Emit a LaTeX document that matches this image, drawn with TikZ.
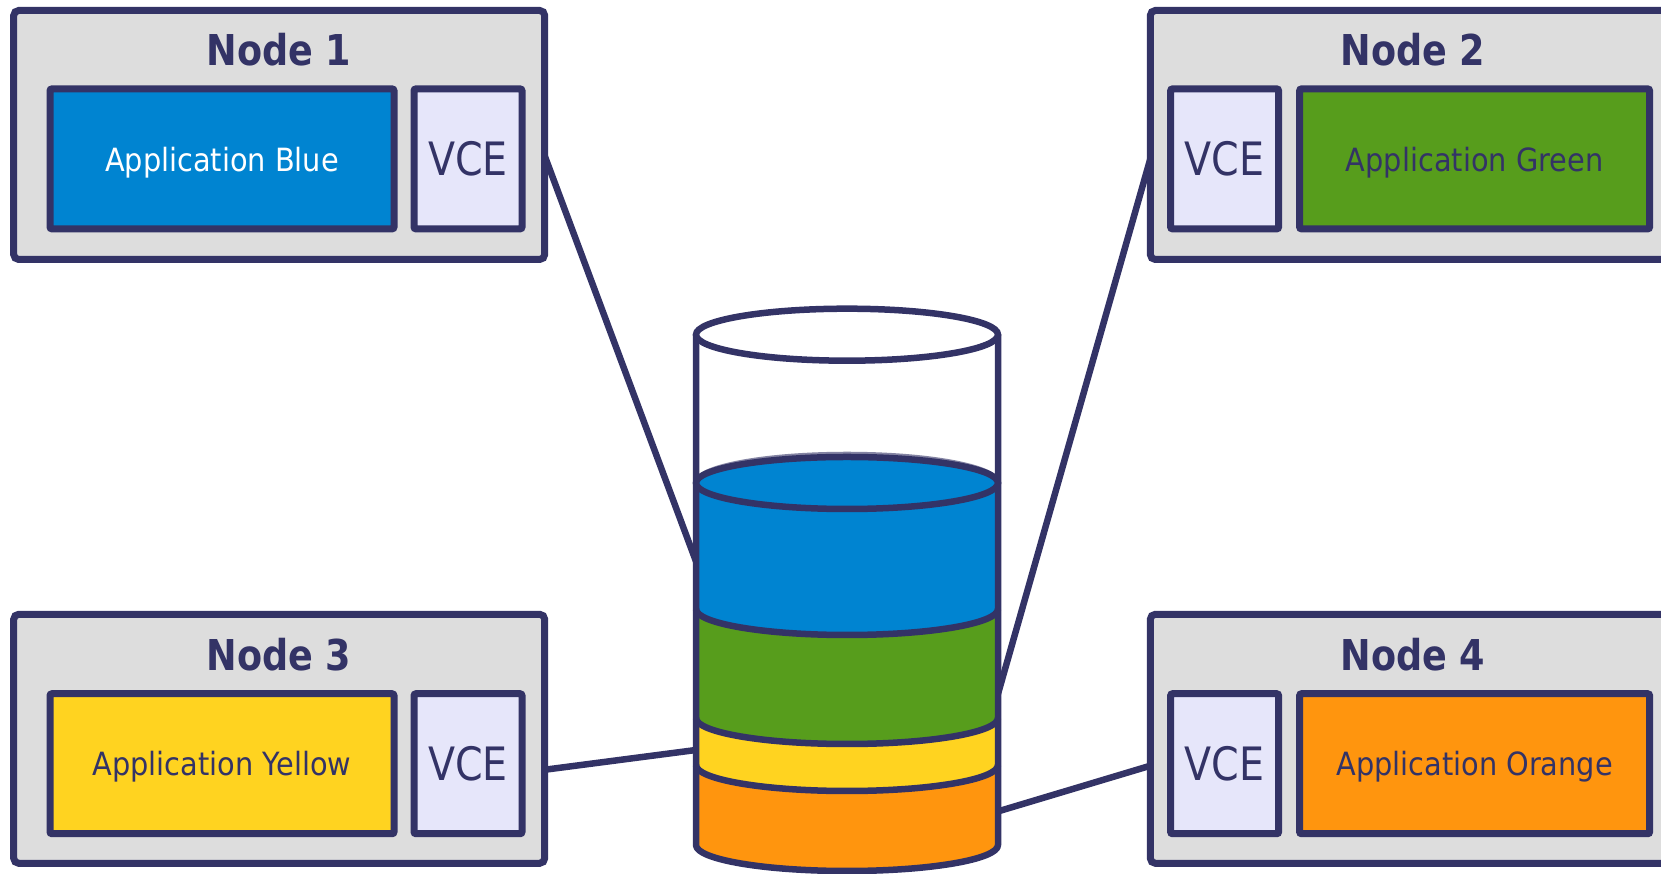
\documentclass[tikz,border=0pt]{standalone}
\usepackage{fontspec}
\usetikzlibrary{calc}
\setmainfont{DejaVu Sans}[FakeStretch=0.86]
\newfontfamily\appfont{DejaVu Sans}[FakeStretch=0.9]
\definecolor{navy}{HTML}{333366}
\definecolor{boxgray}{HTML}{DDDDDD}
\definecolor{lav}{HTML}{E6E6FA}
\definecolor{appblue}{HTML}{0084D1}
\definecolor{appgreen}{HTML}{579D1C}
\definecolor{appyellow}{HTML}{FFD320}
\definecolor{apporange}{HTML}{FF950E}
\begin{document}
\begin{tikzpicture}[x=1pt,y=1pt,
  outerbox/.style={draw=navy,line width=7pt,fill=boxgray,rounded corners=5pt,minimum width=531pt,minimum height=249pt,inner sep=0pt,outer sep=0pt},
  appbox/.style={draw=navy,line width=7pt,rounded corners=2pt,minimum width=344pt,minimum height=140pt,inner sep=0pt,outer sep=0pt,font=\appfont\fontsize{32}{38}\selectfont,text=navy,text depth=0pt},
  vcebox/.style={draw=navy,line width=7pt,fill=lav,rounded corners=2pt,minimum width=108pt,minimum height=140pt,inner sep=0pt,outer sep=0pt,font=\fontsize{46}{50}\selectfont,text=navy},
  titletext/.style={font=\bfseries\fontsize{42.5}{48}\selectfont,text=navy,inner sep=0pt},
  link/.style={draw=navy,line width=6.5pt},
  cyl/.style={draw=navy,line width=6.5pt}]
\useasboundingbox (0,0) rectangle (1661,874);
\clip (0,0) rectangle (1661,874);

% Node 1
\node[outerbox] (n1) at (279.2,739) {};
\node[titletext] (t1) at (279,824.2) {Node 1};
\node[appbox,fill=appblue,text=white] (a1) at (222,715.1) {Application Blue};
\node[vcebox] (v1) at (468,715.1) {VCE};
% Node 2
\node[outerbox] (n2) at (1415.8,739) {};
\node[titletext] (t2) at (1413,824.2) {Node 2};
\node[vcebox] (v2) at (1224.6,715.1) {VCE};
\node[appbox,fill=appgreen,minimum width=350pt] (a2) at (1474.6,715.1) {Application Green};
% Node 3
\node[outerbox] (n3) at (279.2,135.2) {};
\node[titletext] (t3) at (279,219.4) {Node 3};
\node[appbox,fill=appyellow] (a3) at (222,110.25) {Application Yellow};
\node[vcebox] (v3) at (468,110.25) {VCE};
% Node 4
\node[outerbox] (n4) at (1415.8,135.2) {};
\node[titletext] (t4) at (1413,219.4) {Node 4};
\node[vcebox] (v4) at (1224.6,110.25) {VCE};
\node[appbox,fill=apporange,minimum width=350pt] (a4) at (1474.6,110.25) {Application Orange};

% connector end points
\coordinate (s1) at ($(n1.east |- v1)+(0,3)$);
\coordinate (s2) at (n2.west |- v2);
\coordinate (s3) at ($(n3.east |- v3)+(0,-6)$);
\coordinate (s4) at ($(n4.west |- v4)+(0,-2)$);
\coordinate (c1) at (696,312.6);
\coordinate (c2) at (998,180.2);
\coordinate (c3) at (696,124);
\coordinate (c4) at (998,62.6);

% connectors
\draw[link] (s1) -- (c1);
\draw[link] (s2) -- (c2);
\draw[link] (s3) -- (c3);
\draw[link] (s4) -- (c4);

% cylinder fills
\fill[white] (696,539.3) -- (696,29) arc[start angle=180,end angle=360,x radius=151,y radius=26] -- (998,539.3) -- cycle;
\fill[apporange] (696,109) -- (696,29) arc[start angle=180,end angle=360,x radius=151,y radius=26] -- (998,109) arc[start angle=0,end angle=-180,x radius=151,y radius=26] -- cycle;
\fill[appyellow] (696,156) -- (696,109) arc[start angle=180,end angle=360,x radius=151,y radius=26] -- (998,156) arc[start angle=0,end angle=-180,x radius=151,y radius=26] -- cycle;
\fill[appgreen] (696,265) -- (696,156) arc[start angle=180,end angle=360,x radius=151,y radius=26] -- (998,265) arc[start angle=0,end angle=-180,x radius=151,y radius=26] -- cycle;
\fill[appblue] (696,265) -- (696,391) arc[start angle=180,end angle=0,x radius=151,y radius=26] -- (998,265) arc[start angle=0,end angle=-180,x radius=151,y radius=26] -- cycle;

% cylinder outlines
\draw[cyl,line join=round] (696,539.3) -- (696,29) arc[start angle=180,end angle=360,x radius=151,y radius=26] -- (998,539.3);
\draw[cyl] (847,539.3) ellipse[x radius=151,y radius=26];
\draw[navy,opacity=0.6,line width=3.5pt] (696,392) arc[start angle=180,end angle=0,x radius=151,y radius=28.5];
\draw[cyl] (847,391) ellipse[x radius=151,y radius=26];
\draw[cyl] (696,265) arc[start angle=180,end angle=360,x radius=151,y radius=26];
\draw[cyl] (696,156) arc[start angle=180,end angle=360,x radius=151,y radius=26];
\draw[cyl] (696,109) arc[start angle=180,end angle=360,x radius=151,y radius=26];
\end{tikzpicture}
\end{document}
